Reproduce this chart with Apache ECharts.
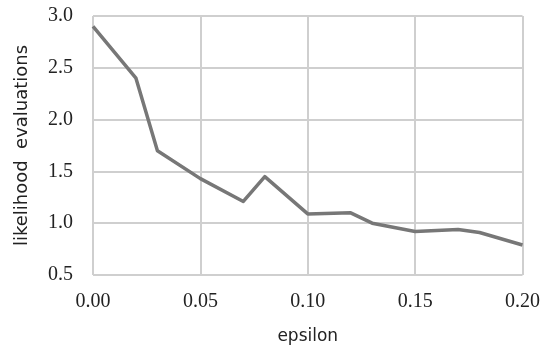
<!DOCTYPE html>
<html>
<head>
<meta charset="utf-8">
<script src="https://cdn.jsdelivr.net/npm/echarts@6/dist/echarts.min.js"></script>
<style>
  html, body { margin: 0; padding: 0; background: #fff; }
  #chart { width: 543px; height: 350px; }
</style>
</head>
<body>
<div id="chart"></div>
<script>
// epsilon values and mean likelihood evaluations at each
const epsilon = [0.00, 0.02, 0.03, 0.05, 0.07, 0.08, 0.10, 0.12, 0.13, 0.15, 0.17, 0.18, 0.20];
const evaluations = [2.90, 2.40, 1.70, 1.43, 1.21, 1.45, 1.09, 1.10, 1.00, 0.92, 0.94, 0.91, 0.79];

const xLabel = 'epsilon';
const yLabel = 'likelihood  evaluations';

const serif = 'Liberation Serif';
const sans = 'DejaVu Sans';
const gridColor = '#cfcfcf';

const chart = echarts.init(document.getElementById('chart'), null, { renderer: 'canvas' });
chart.setOption({
  animation: false,
  backgroundColor: '#ffffff',
  grid: { left: 93, right: 20, top: 16, bottom: 74 },
  xAxis: {
    type: 'value',
    min: 0, max: 0.2, interval: 0.05,
    name: xLabel,
    nameLocation: 'middle',
    nameGap: 53,
    nameTextStyle: { fontFamily: sans, fontSize: 17, color: '#222' },
    axisLine: { show: false },
    axisTick: { show: false },
    axisLabel: {
      margin: 17,
      fontFamily: serif, fontSize: 20, color: '#222',
      formatter: v => v.toFixed(2)
    },
    splitLine: { show: true, lineStyle: { color: gridColor, width: 2 } }
  },
  yAxis: {
    type: 'value',
    min: 0.5, max: 3.0, interval: 0.5,
    name: yLabel,
    nameLocation: 'middle',
    nameGap: 62,
    nameTextStyle: { fontFamily: sans, fontSize: 18, color: '#222' },
    axisLine: { show: false },
    axisTick: { show: false },
    axisLabel: {
      margin: 20,
      fontFamily: serif, fontSize: 20, color: '#222',
      formatter: v => v.toFixed(1)
    },
    splitLine: { show: true, lineStyle: { color: gridColor, width: 2 } }
  },
  series: [{
    type: 'line',
    data: epsilon.map((e, i) => [e, evaluations[i]]),
    showSymbol: false,
    lineStyle: { color: '#777777', width: 3.5, join: 'round' },
    itemStyle: { color: '#777777' }
  }]
});
</script>
</body>
</html>
